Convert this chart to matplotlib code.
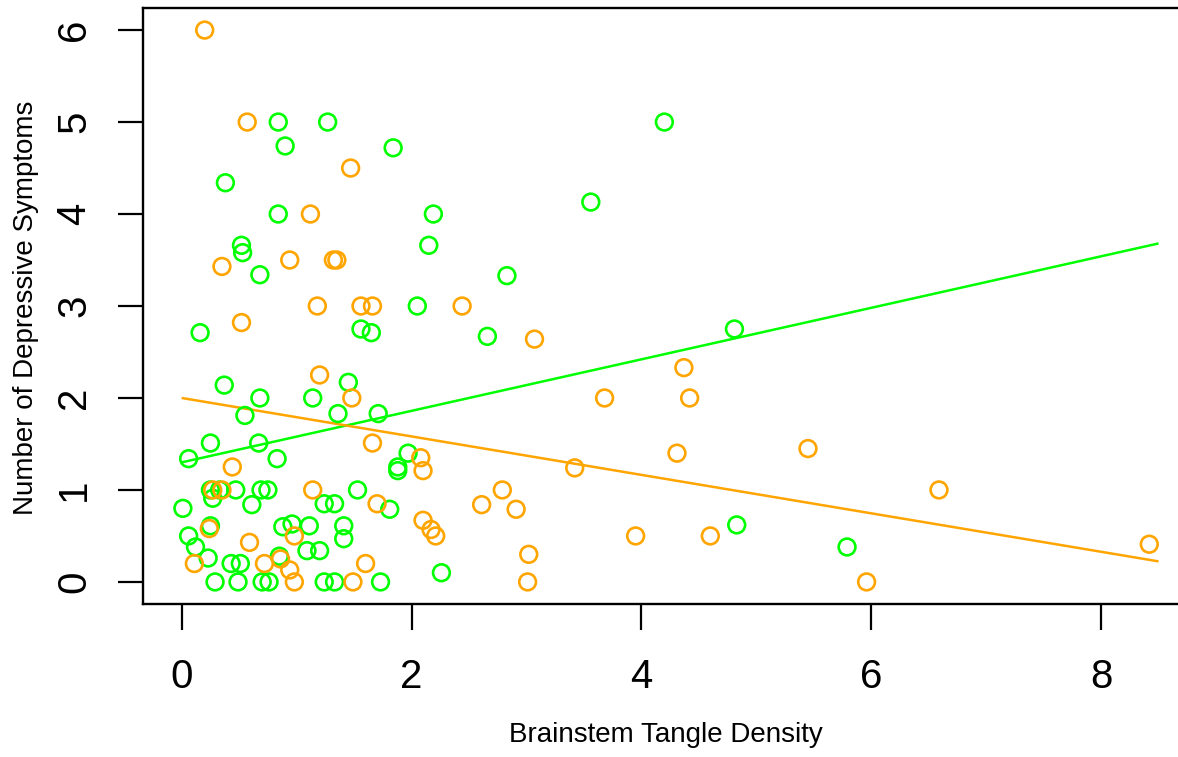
import matplotlib
matplotlib.use("Agg")
import matplotlib.pyplot as plt
import numpy as np

plt.rcParams['font.family'] = ['Liberation Sans', 'DejaVu Sans']

# Green group
green_x = [0.84, 1.27, 0.90, 1.84, 0.38, 0.84, 2.19, 0.52, 0.53, 2.15,
           0.68, 2.05, 0.16, 1.56, 1.65, 1.45, 0.37, 0.68, 1.14, 0.55,
           1.36, 1.71, 0.25, 0.67, 0.06, 0.83, 1.97, 1.88, 1.88, 0.25,
           0.33, 0.47, 0.69, 0.75, 1.53, 0.27, 0.61, 1.24, 1.33, 1.81,
           0.01, 0.25, 0.88, 0.96, 1.11, 1.41, 1.41, 0.06, 0.12, 1.09,
           1.20, 0.23, 0.43, 0.51, 0.85, 2.26, 0.29, 0.49, 0.70, 0.76,
           1.24, 1.33, 1.73, 4.20, 3.56, 2.83, 2.66, 4.81, 4.83, 5.79]
green_y = [5.00, 5.00, 4.74, 4.72, 4.34, 4.00, 4.00, 3.66, 3.58, 3.66,
           3.34, 3.00, 2.71, 2.75, 2.71, 2.17, 2.14, 2.00, 2.00, 1.81,
           1.83, 1.83, 1.51, 1.51, 1.34, 1.34, 1.40, 1.25, 1.21, 1.00,
           1.00, 1.00, 1.00, 1.00, 1.00, 0.91, 0.84, 0.85, 0.85, 0.79,
           0.80, 0.61, 0.60, 0.63, 0.61, 0.61, 0.47, 0.50, 0.38, 0.34,
           0.34, 0.26, 0.20, 0.20, 0.28, 0.10, 0.00, 0.00, 0.00, 0.00,
           0.00, 0.00, 0.00, 5.00, 4.13, 3.33, 2.67, 2.75, 0.62, 0.38]

# Orange group
orange_x = [0.20, 0.57, 1.47, 1.12, 0.35, 0.94, 1.32, 1.35, 1.18, 1.56,
            1.66, 0.52, 1.20, 1.48, 1.66, 2.08, 2.10, 0.44, 0.27, 0.35,
            1.14, 1.70, 2.10, 2.17, 2.21, 0.24, 0.98, 0.59, 0.11, 0.72,
            0.86, 0.94, 0.98, 1.60, 1.49, 2.44, 3.07, 4.37, 3.68, 4.42,
            4.31, 3.42, 2.79, 2.61, 2.91, 3.95, 4.60, 3.02, 3.01, 5.45,
            6.59, 5.96, 8.42]
orange_y = [6.00, 5.00, 4.50, 4.00, 3.43, 3.50, 3.50, 3.50, 3.00, 3.00,
            3.00, 2.82, 2.25, 2.00, 1.51, 1.35, 1.21, 1.25, 1.00, 1.00,
            1.00, 0.85, 0.67, 0.57, 0.50, 0.58, 0.50, 0.43, 0.20, 0.20,
            0.25, 0.13, 0.00, 0.20, 0.00, 3.00, 2.64, 2.33, 2.00, 2.00,
            1.40, 1.24, 1.00, 0.84, 0.79, 0.50, 0.50, 0.30, 0.00, 1.45,
            1.00, 0.00, 0.41]

# Fitted lines (intercept, slope) and x-range
line_x = [0.01, 8.49]
green_fit = (1.30, 0.28)
orange_fit = (2.00, -0.209)

x_ticks = [0, 2, 4, 6, 8]
y_ticks = [0, 1, 2, 3, 4, 5, 6]

GREEN = '#00FF00'
ORANGE = '#FFA500'

W, H = 1178, 757
fig = plt.figure(figsize=(W / 100, H / 100), dpi=100)
left, right, top, bottom = 143, 1188, 8, 604
ax = fig.add_axes([left / W, 1 - bottom / H, (right - left) / W, (bottom - top) / H])

ax.scatter(green_x, green_y, s=145, facecolors='none', edgecolors=GREEN, linewidths=1.9, zorder=3)
ax.scatter(orange_x, orange_y, s=145, facecolors='none', edgecolors=ORANGE, linewidths=1.9, zorder=3)

lx = np.array(line_x)
ax.plot(lx, green_fit[0] + green_fit[1] * lx, color=GREEN, lw=1.8, zorder=2)
ax.plot(lx, orange_fit[0] + orange_fit[1] * lx, color=ORANGE, lw=1.8, zorder=2)

ax.set_xlim(-0.337, 8.757)
ax.set_ylim(-0.24, 6.24)

ax.set_xticks(x_ticks)
ax.set_xticklabels([str(t) for t in x_ticks], fontsize=29)
ax.set_yticks(y_ticks)
ax.set_yticklabels([str(t) for t in y_ticks], fontsize=29, rotation=90, va='center')
ax.tick_params(axis='x', direction='out', length=19, width=1.6, pad=20)
ax.tick_params(axis='y', direction='out', length=18, width=1.6, pad=18)

for sp in ax.spines.values():
    sp.set_linewidth(1.7)
    sp.set_color('black')

fig.text(665.5 / W, 1 - 735 / H, 'Brainstem Tangle Density', fontsize=20,
         ha='center', va='center')
fig.text(26 / W, 1 - 308 / H, 'Number of Depressive Symptoms', fontsize=20,
         ha='center', va='center', rotation=90)

fig.savefig('out.png', dpi=100)
